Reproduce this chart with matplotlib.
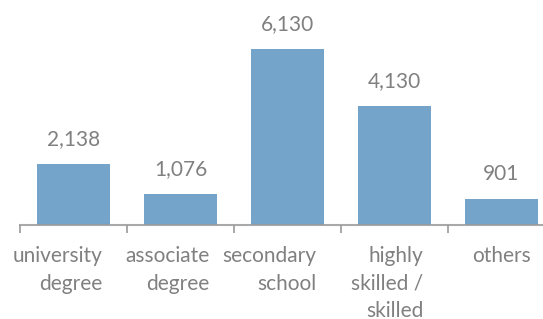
import matplotlib.pyplot as plt
import matplotlib.transforms as mtransforms
import numpy as np

categories = ['university\ndegree', 'associate\ndegree', 'secondary\nschool',
              'highly\nskilled /\nskilled', 'others']
values = [2138, 1076, 6130, 4130, 901]

bar_color = '#74a4c9'
text_color = '#808080'
axis_color = '#9a9a9a'

plt.rcParams['font.family'] = ['Lato', 'DejaVu Sans']

fig = plt.figure(figsize=(5.43, 3.19), dpi=100)
# axes spans from the first tick to the right edge of the figure
ax = fig.add_axes([20 / 543, (319 - 225) / 319, 523 / 543, 225 / 319])

x = np.arange(len(categories))
bar_width = 0.68
ax.bar(x, values, width=bar_width, color=bar_color, zorder=2)

# value labels above bars
for xi, v in zip(x, values):
    ax.annotate(f'{v:,}', (xi, v), xytext=(0, 18), textcoords='offset points',
                ha='center', va='center', fontsize=15, color=text_color)

ax.set_xlim(-0.5, -0.5 + 523 / 107)
ax.set_ylim(0, 225 / 0.0287)

# boundary ticks only
ax.set_xticks(np.arange(len(categories)) - 0.5)
ax.set_xticklabels([])
ax.tick_params(axis='x', length=6, width=1.2, color=axis_color, direction='out')
ax.set_yticks([])

for side in ['top', 'right', 'left']:
    ax.spines[side].set_visible(False)
ax.spines['bottom'].set_color(axis_color)
ax.spines['bottom'].set_linewidth(1.5)
ax.spines['bottom'].set_alpha(0.85)
ax.spines['bottom'].set_zorder(3)

# category labels, right aligned near the bar's right edge
trans = mtransforms.blended_transform_factory(ax.transData, ax.transAxes)
for xi, label in zip(x, categories):
    ax.text(xi + bar_width / 2 - 0.07, -0.095, label, transform=trans,
            ha='right', va='top', multialignment='right',
            fontsize=15, color=text_color, linespacing=1.45)

fig.savefig('out.png', dpi=100)
